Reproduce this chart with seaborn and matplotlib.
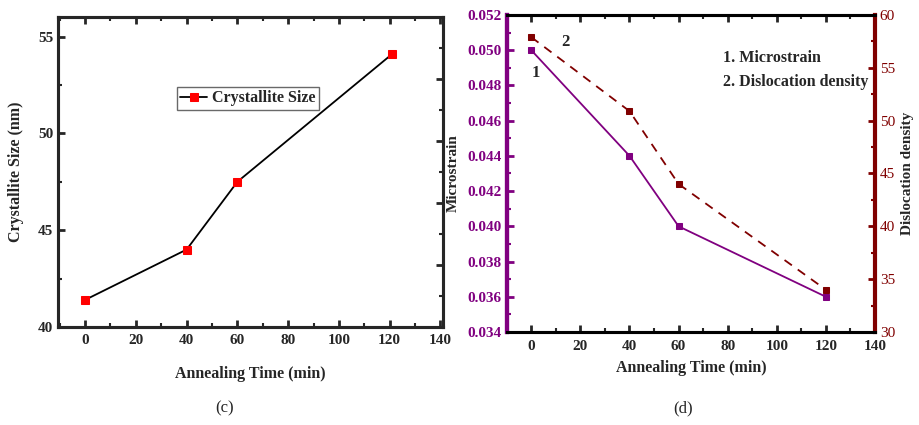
import matplotlib
matplotlib.use("Agg")
import matplotlib.pyplot as plt
import seaborn as sns
import pandas as pd
from matplotlib.ticker import MultipleLocator

# ---- data ----
time_c = [0, 40, 60, 121]
crystallite_size = [41.4, 44.0, 47.5, 54.1]

time_d = [0, 40, 60, 120]
microstrain = [0.050, 0.044, 0.040, 0.036]
dislocation = [57.9, 50.9, 44.0, 34.0]

sns.set_style("ticks")
plt.rcParams['font.family'] = ['Liberation Serif', 'DejaVu Serif']
plt.rcParams['font.weight'] = 'bold'
plt.rcParams['axes.labelweight'] = 'bold'

PURPLE = '#800080'
DRED = '#800000'

fig = plt.figure(figsize=(9.2, 4.25), dpi=100)
ax1 = fig.add_axes([0.063, 0.2306, 0.4185, 0.729])
ax2 = fig.add_axes([0.5508, 0.2188, 0.4003, 0.746])

def style_ticks(ax):
    ax.tick_params(which='both', direction='in', labelsize=11)
    ax.tick_params(which='major', length=5, width=2)
    ax.tick_params(which='minor', length=3, width=1.5)
    for lab in ax.get_xticklabels() + ax.get_yticklabels():
        lab.set_fontweight('bold')

# ---- panel (c) ----
df_c = pd.DataFrame({'t': time_c, 's': crystallite_size})
sns.lineplot(data=df_c, x='t', y='s', ax=ax1, color='black', lw=1.3,
             marker='s', markersize=6, markerfacecolor='red',
             markeredgecolor='red', label='Crystallite Size')
ax1.set_xlim(-10.7, 141)
ax1.set_ylim(40, 56)
ax1.xaxis.set_major_locator(MultipleLocator(20))
ax1.xaxis.set_minor_locator(MultipleLocator(10))
ax1.yaxis.set_major_locator(MultipleLocator(5))
ax1.yaxis.set_minor_locator(MultipleLocator(2.5))
ax1.tick_params(which='both', top=True, right=False)
for s in ax1.spines.values():
    s.set_linewidth(2.2)
    s.set_visible(True)
ax1.set_xlabel('Annealing Time (min)', fontsize=11.5, fontweight='bold', labelpad=14)
ax1.set_ylabel('Crystallite Size (nm)', fontsize=11.5, fontweight='bold', labelpad=10)
style_ticks(ax1)
ax1.tick_params(axis='x', pad=5)
# right-side ticks (secondary scale, unlabeled)
tw = ax1.twinx()
tw.set_ylim(0, 10)
tw.yaxis.set_major_locator(MultipleLocator(2))
tw.yaxis.set_minor_locator(MultipleLocator(1))
tw.tick_params(which='both', direction='in', labelright=False)
tw.tick_params(which='major', length=5, width=2)
tw.tick_params(which='minor', length=3, width=1.5)
for s in tw.spines.values():
    s.set_linewidth(2.2)
leg = ax1.legend(loc='upper left', bbox_to_anchor=(0.309, 0.774), frameon=True,
                 fancybox=False, edgecolor='#444444', fontsize=11.5,
                 handlelength=1.7, borderpad=0.2, handletextpad=0.3,
                 borderaxespad=0.0)
leg.get_frame().set_linewidth(1.0)
for t in leg.get_texts():
    t.set_fontweight('bold')

# ---- panel (d) ----
df_d = pd.DataFrame({'t': time_d, 'm': microstrain, 'd': dislocation})
sns.lineplot(data=df_d, x='t', y='m', ax=ax2, color=PURPLE, lw=1.3,
             marker='s', markersize=5, markeredgecolor=PURPLE)
ax2.set_xlim(-10, 140)
ax2.set_ylim(0.034, 0.052)
ax2.xaxis.set_major_locator(MultipleLocator(20))
ax2.xaxis.set_minor_locator(MultipleLocator(10))
ax2.yaxis.set_major_locator(MultipleLocator(0.002))
ax2.yaxis.set_minor_locator(MultipleLocator(0.001))
ax2.yaxis.set_major_formatter(matplotlib.ticker.FormatStrFormatter('%.3f'))
ax2.tick_params(which='both', top=True)
style_ticks(ax2)
ax2.tick_params(axis='x', pad=6)
ax2.tick_params(axis='y', which='both', colors=PURPLE)
for lab in ax2.get_yticklabels():
    lab.set_color(PURPLE)
ax2.set_xlabel('Annealing Time (min)', fontsize=11.5, fontweight='bold', labelpad=5)
ax2.set_ylabel('Microstrain', fontsize=11, fontweight='bold', labelpad=6)

ax3 = ax2.twinx()
sns.lineplot(data=df_d, x='t', y='d', ax=ax3, color=DRED, lw=1.3,
             marker='s', markersize=5, markeredgecolor=DRED, linestyle='--')
ax3.lines[0].set_dashes([5, 4])
ax3.set_ylim(30, 60)
ax3.yaxis.set_major_locator(MultipleLocator(5))
ax3.yaxis.set_minor_locator(MultipleLocator(2.5))
ax3.tick_params(which='both', direction='in', labelsize=11, colors=DRED)
ax3.tick_params(which='major', length=5, width=2)
ax3.tick_params(which='minor', length=3, width=1.5)
for lab in ax3.get_yticklabels():
    lab.set_fontweight('normal')
    lab.set_color(DRED)
ax3.set_ylabel('Dislocation density', fontsize=11, fontweight='bold', labelpad=4)

for s in ['top', 'bottom']:
    ax3.spines[s].set_linewidth(2.2)
    ax3.spines[s].set_color('black')
ax3.spines['left'].set_color(PURPLE)
ax3.spines['left'].set_linewidth(3)
ax3.spines['right'].set_color(DRED)
ax3.spines['right'].set_linewidth(3)
ax2.spines['left'].set_color(PURPLE)
ax2.spines['left'].set_linewidth(3)
ax2.spines['right'].set_visible(False)
for s in ['top', 'bottom']:
    ax2.spines[s].set_linewidth(2.2)

ax2.text(2, 0.0487, '1', fontsize=12, fontweight='bold', ha='center', va='center')
ax3.text(14, 57.4, '2', fontsize=12, fontweight='bold', ha='center', va='center')
ax2.text(0.587, 0.864, '1. Microstrain', transform=ax2.transAxes, fontsize=11.5,
         fontweight='bold', va='center')
ax2.text(0.587, 0.789, '2. Dislocation density', transform=ax2.transAxes, fontsize=11.5,
         fontweight='bold', va='center')

fig.text(0.2446, 0.04, '(c)', fontsize=12, fontweight='normal', ha='center', va='center')
fig.text(0.742, 0.04, '(d)', fontsize=12, fontweight='normal', ha='center', va='center')

fig.savefig('out.png', dpi=100)
